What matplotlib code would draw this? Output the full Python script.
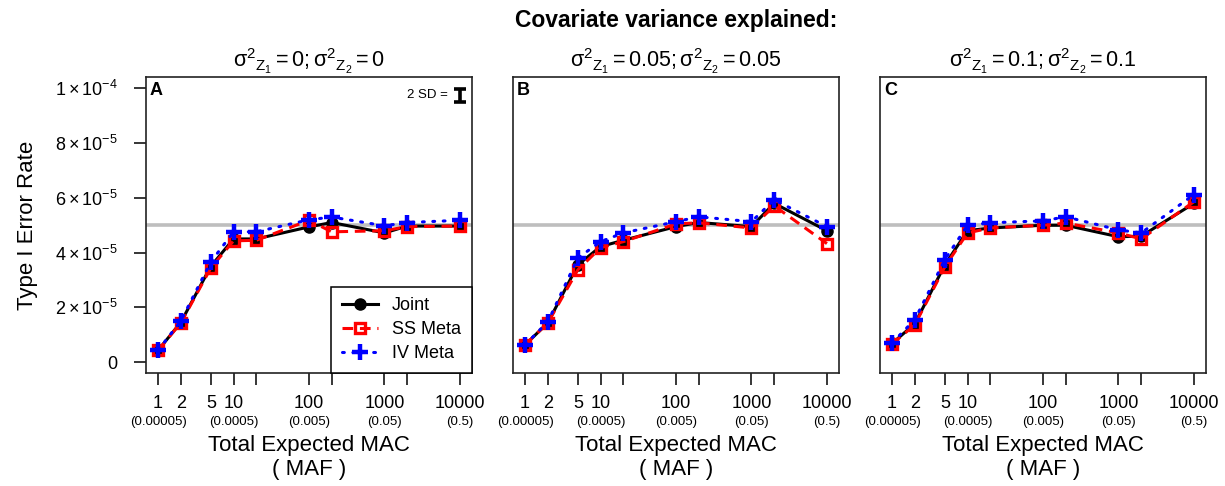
import matplotlib
matplotlib.use("Agg")
import matplotlib.pyplot as plt
from matplotlib.ticker import FixedLocator, FixedFormatter, NullLocator

plt.rcParams['font.family'] = ['Liberation Sans', 'DejaVu Sans']
plt.rcParams['mathtext.fontset'] = 'custom'
plt.rcParams['mathtext.rm'] = 'Liberation Sans'
plt.rcParams['mathtext.it'] = 'Liberation Sans:italic'
plt.rcParams['mathtext.bf'] = 'Liberation Sans:bold'

# ---------------- data ----------------
mac = [1, 2, 5, 10, 20, 100, 200, 1000, 2000, 10000]
tick_labels = ["1", "2", "5", "10", "", "100", "", "1000", "", "10000"]
maf_positions = [1, 10, 100, 1000, 10000]
maf_labels = ["(0.00005)", "(0.0005)", "(0.005)", "(0.05)", "(0.5)"]

panel_letters = ["A", "B", "C"]
panel_titles = [
    r"$\mathrm{\sigma^{2}{}_{Z_{1}} = 0;\sigma^{2}{}_{Z_{2}} = 0}$",
    r"$\mathrm{\sigma^{2}{}_{Z_{1}} = 0.05;\sigma^{2}{}_{Z_{2}} = 0.05}$",
    r"$\mathrm{\sigma^{2}{}_{Z_{1}} = 0.1;\sigma^{2}{}_{Z_{2}} = 0.1}$",
]

# Type I error rates (x 1e-5)
joint_A = [0.43, 1.45, 3.50, 4.50, 4.50, 4.94, 5.10, 4.72, 4.97, 4.97]
ss_A    = [0.43, 1.43, 3.44, 4.43, 4.45, 5.18, 4.76, 4.80, 4.95, 4.97]
iv_A    = [0.43, 1.50, 3.66, 4.76, 4.76, 5.20, 5.30, 4.98, 5.10, 5.18]

joint_B = [0.63, 1.43, 3.55, 4.22, 4.45, 4.95, 5.10, 4.95, 5.80, 4.80]
ss_B    = [0.63, 1.43, 3.37, 4.18, 4.40, 5.05, 5.09, 4.90, 5.71, 4.33]
iv_B    = [0.63, 1.47, 3.80, 4.40, 4.72, 5.13, 5.31, 5.13, 5.93, 4.95]

joint_C = [0.68, 1.40, 3.55, 4.80, 4.90, 5.00, 5.00, 4.58, 4.60, 5.80]
ss_C    = [0.66, 1.36, 3.48, 4.72, 4.90, 5.00, 5.08, 4.72, 4.50, 5.86]
iv_C    = [0.70, 1.55, 3.74, 5.00, 5.09, 5.16, 5.31, 4.83, 4.72, 6.12]

joint = [joint_A, joint_B, joint_C]
ss = [ss_A, ss_B, ss_C]
iv = [iv_A, iv_B, iv_C]

alpha_level = 5e-5
yticks = [0, 2e-5, 4e-5, 6e-5, 8e-5, 1e-4]
ytick_labels = ["0", r"$2\times10^{-5}$", r"$4\times10^{-5}$", r"$6\times10^{-5}$",
                r"$8\times10^{-5}$", r"$1\times10^{-4}$"]
sd2 = 4.8e-6  # height of the "2 SD" bar

# ---------------- figure ----------------
W, H = 1225, 486
fig = plt.figure(figsize=(W / 100, H / 100), dpi=100)

lefts = [146, 513, 880]
ax_w = 326
top_px, bot_px = 77.5, 373

for i in range(3):
    ax = fig.add_axes([lefts[i] / W, 1 - bot_px / H, ax_w / W, (bot_px - top_px) / H])
    ax.set_xscale('log')
    ax.set_xlim(10 ** -0.16, 10 ** 4.16)
    ax.set_ylim(-4e-6, 1.04e-4)

    ax.axhline(alpha_level, color='#BEBEBE', lw=2.6, zorder=1)

    yj = [v * 1e-5 for v in joint[i]]
    ys = [v * 1e-5 for v in ss[i]]
    yi = [v * 1e-5 for v in iv[i]]
    ax.plot(mac, yj, color='black', lw=2.2, marker='o', ms=8, label='Joint', zorder=3)
    ax.plot(mac, ys, color='red', lw=2.2, dashes=(3.5, 2.2), marker='s', ms=7,
            mfc='none', mec='red', mew=2.4, label='SS Meta', zorder=4)
    ax.plot(mac, yi, color='blue', lw=2.2, linestyle=(0, (0.6, 2.8)),
            dash_capstyle='round', zorder=5)
    ax.plot(mac, yi, color='blue', lw=0, marker='+', ms=11, mew=3.2, zorder=6)
    # legend proxy for IV
    ax.plot([], [], color='blue', lw=2.2, linestyle=(0, (0.6, 2.8)),
            dash_capstyle='round', marker='+', ms=11, mew=3.2, label='IV Meta')

    ax.xaxis.set_major_locator(FixedLocator(mac))
    ax.xaxis.set_major_formatter(FixedFormatter(tick_labels))
    ax.xaxis.set_minor_locator(NullLocator())
    ax.tick_params(axis='both', direction='out', length=8.6, width=1.1, labelsize=13,
                   colors='black')
    ax.tick_params(axis='x', pad=7)
    if i == 0:
        ax.set_yticks(yticks)
        ax.set_yticklabels(ytick_labels)
        ax.tick_params(axis='y', pad=12)
    else:
        ax.set_yticks([])

    for sp in ax.spines.values():
        sp.set_linewidth(1.2)
        sp.set_color('#222222')

    for xp, lab in zip(maf_positions, maf_labels):
        ax.annotate(lab, xy=(xp, 0), xycoords=('data', 'axes fraction'),
                    xytext=(0, -35), textcoords='offset points',
                    ha='center', va='center', fontsize=9.5)

    ax.set_xlabel("Total Expected MAC\n( MAF )", fontsize=16, labelpad=17,
                  linespacing=1.2)
    ax.set_title(panel_titles[i], fontsize=15.5, pad=7)
    ax.text(0.012, 0.985, panel_letters[i], transform=ax.transAxes, ha='left',
            va='top', fontsize=13, fontweight='bold')

    if i == 0:
        ax.set_ylabel("Type I Error Rate", fontsize=16)
        ax.yaxis.set_label_coords(-0.33, 0.5)
        leg = ax.legend(loc='lower right', bbox_to_anchor=(1.0, 0.0),
                        borderaxespad=0, fontsize=13, frameon=True, fancybox=False,
                        edgecolor='black', framealpha=1, handlelength=2.0,
                        labelspacing=0.38, borderpad=0.6, handletextpad=0.8,
                        numpoints=1)
        leg.get_frame().set_linewidth(1.1)
        leg.set_zorder(10)
        # 2 SD scale bar
        ax.errorbar([10000], [9.75e-5], yerr=[sd2 / 2], fmt='none', ecolor='black',
                    elinewidth=2.6, capsize=4, capthick=2.6, zorder=6)
        ax.annotate("2 SD =", xy=(10000, 9.75e-5), xycoords='data',
                    xytext=(-9, 0), textcoords='offset points', ha='right',
                    va='center', fontsize=9.5)

fig.text(676 / W, 1 - 21 / H, "Covariate variance explained:", ha='center',
         va='center', fontsize=16.5, fontweight='bold')

fig.savefig("out.png", dpi=100)
